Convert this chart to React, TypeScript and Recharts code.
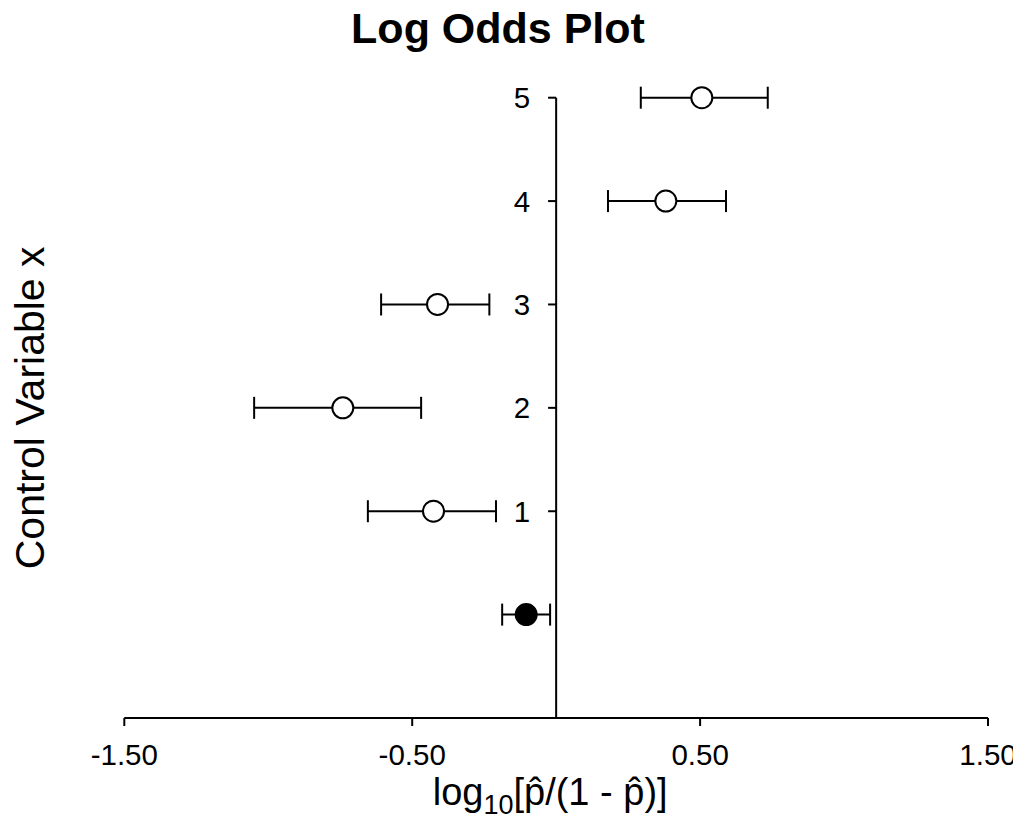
import React from 'react'
import {
  ScatterChart,
  Scatter,
  XAxis,
  YAxis,
  ErrorBar,
  ReferenceLine
} from 'recharts'

// values
const levels = [1, 2, 3, 4, 5]
const logOdds = [-0.426, -0.741, -0.412, 0.381, 0.506]
const lowerCI = [-0.654, -1.049, -0.608, 0.18, 0.294]
const upperCI = [-0.209, -0.469, -0.232, 0.59, 0.735]

const baseLevel = [0]
const baseLogOdds = [-0.104]
const baseLower = [-0.1875]
const baseUpper = [-0.021]

const xTicks = [-1.5, -0.5, 0.5, 1.5]

const toPoints = (ys: number[], xs: number[], lo: number[], hi: number[]) =>
  ys.map((y, i) => ({ x: xs[i], y, err: [xs[i] - lo[i], hi[i] - xs[i]] }))

const levelData = toPoints(levels, logOdds, lowerCI, upperCI)
const baseData = toPoints(baseLevel, baseLogOdds, baseLower, baseUpper)

const FONT = '"Liberation Sans", Arial, Helvetica, sans-serif'
const TICK_FS = 29.5
const tickLen = 0.028 // ~8px in x units

const OpenDot = (p: any) => (
  <circle cx={p.cx} cy={p.cy} r={10.5} fill="#fff" stroke="#000" strokeWidth={2} />
)
const FilledDot = (p: any) => (
  <circle cx={p.cx} cy={p.cy} r={10.5} fill="#000" stroke="#000" strokeWidth={2} />
)

const XTitle = (props: any) => {
  const vb = props.viewBox || { x: 0, y: 0, width: 0 }
  return (
    <text
      x={vb.x + vb.width / 2 - 6}
      y={vb.y + 87}
      textAnchor="middle"
      fontSize={38}
      fill="#000"
      fontFamily={FONT}
    >
      log
      <tspan fontSize={27} dy={9}>10</tspan>
      <tspan dy={-9}>[p̂/(1 - p̂)]</tspan>
    </text>
  )
}

const YTitle = (props: any) => {
  const vb = props.viewBox || { x: 0, y: 0, height: 0 }
  const cx = 36
  const cy = vb.y + vb.height / 2
  return (
    <text
      x={cx}
      y={cy}
      transform={`rotate(-90, ${cx}, ${cy})`}
      textAnchor="middle"
      fontSize={41}
      fill="#000"
      fontFamily={FONT}
    >
      Control Variable x
    </text>
  )
}

export default function App() {
  return (
    <div style={{ position: 'relative', width: 1013, height: 817, fontFamily: FONT }}>
      <div
        style={{
          position: 'absolute',
          left: 0,
          top: -1,
          width: 980,
          textAlign: 'center',
          fontSize: 43,
          fontWeight: 'bold',
          lineHeight: 1,
          color: '#000',
          zIndex: 1
        }}
      >
        Log Odds Plot
      </div>
      <ScatterChart
        width={1013}
        height={817}
        margin={{ top: 89.7, right: 33, bottom: 47, left: 36.3 }}
      >
        <XAxis
          type="number"
          dataKey="x"
          domain={[-1.5, 1.5]}
          ticks={xTicks}
          tickFormatter={(v: number) => v.toFixed(2)}
          tickSize={8}
          tickMargin={18}
          height={60}
          fontSize={TICK_FS}
          axisLine={{ stroke: '#000', strokeWidth: 2 }}
          tickLine={{ stroke: '#000', strokeWidth: 2 }}
          tick={{ fill: '#000', fontSize: TICK_FS }}
          label={<XTitle />}
        />
        <YAxis
          type="number"
          dataKey="y"
          domain={[-1, 5]}
          width={80}
          tick={false}
          tickLine={false}
          axisLine={false}
          label={<YTitle />}
        />
        <ReferenceLine x={0} stroke="#000" strokeWidth={2} />
        {levels.map((k) => (
          <ReferenceLine
            key={k}
            segment={[
              { x: -tickLen, y: k },
              { x: 0, y: k }
            ]}
            stroke="#000"
            strokeWidth={2}
            label={{ value: String(k), position: 'left', offset: 18, fill: '#000', fontSize: TICK_FS }}
          />
        ))}
        <Scatter data={baseData} shape={FilledDot} isAnimationActive={false}>
          <ErrorBar dataKey="err" direction="x" width={11} stroke="#000" strokeWidth={2} />
        </Scatter>
        <Scatter data={levelData} shape={OpenDot} isAnimationActive={false}>
          <ErrorBar dataKey="err" direction="x" width={11} stroke="#000" strokeWidth={2} />
        </Scatter>
      </ScatterChart>
    </div>
  )
}
